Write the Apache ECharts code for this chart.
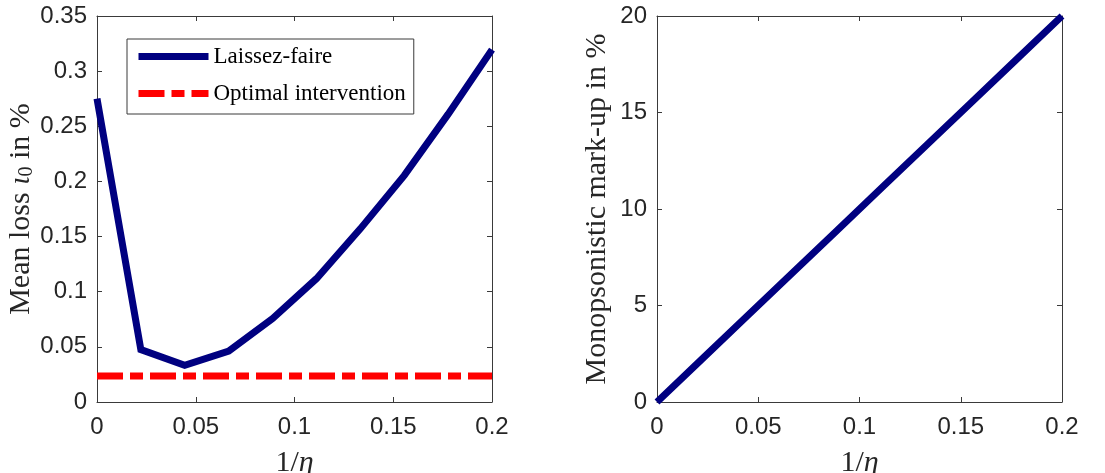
<!DOCTYPE html>
<html lang="en">
<head>
    <meta charset="UTF-8">
    <title>Mean loss and mark-up</title>
    <script src="https://cdn.jsdelivr.net/npm/echarts@6/dist/echarts.min.js"></script>
</head>
<body style="margin:0">
<div id="main" style="width:1105px;height:473px;"></div>
<script type="text/javascript">
    // 1/eta grid
    var invEta = [0, 0.0222, 0.0444, 0.0667, 0.0889, 0.1111, 0.1333, 0.1556, 0.1778, 0.2];
    // mean loss in %, laissez-faire
    var lossLaissez = [0.275, 0.0475, 0.0332, 0.0462, 0.0756, 0.1118, 0.157, 0.2055, 0.261, 0.3195];
    // mean loss in %, optimal intervention
    var lossOptimal = [0.0236, 0.0236, 0.0236, 0.0236, 0.0236, 0.0236, 0.0236, 0.0236, 0.0236, 0.0236];
    // monopsonistic mark-up in %
    var markup = [0, 2.22, 4.44, 6.67, 8.89, 11.11, 13.33, 15.56, 17.78, 20];

    function pairs(xs, ys) {
        return xs.map(function (x, i) { return [x, ys[i]]; });
    }

    var navy = '#000080';
    var axisCol = '#3a3a3a';
    var txtCol = '#262626';
    var serif = 'Liberation Serif';
    var sans = 'Liberation Sans';

    function xAx(grid, pos, showLab) {
        return {
            type: 'value', gridIndex: grid, position: pos,
            min: 0, max: 0.2, interval: 0.05,
            axisLine: {show: true, onZero: false, lineStyle: {color: axisCol, width: 1}},
            axisTick: {show: true, inside: true, length: 5, lineStyle: {color: axisCol}},
            axisLabel: {show: showLab, color: txtCol, fontFamily: sans, fontSize: 24, margin: 13,
                formatter: function (v) { return String(+v.toFixed(2)); }},
            splitLine: {show: false},
            name: showLab ? '{a|1/}{i|η}' : '',
            nameLocation: 'middle', nameGap: 46,
            nameTextStyle: {rich: {
                a: {fontFamily: serif, fontSize: 30, color: txtCol},
                i: {fontFamily: serif, fontSize: 30, fontStyle: 'italic', color: txtCol}
            }}
        };
    }

    function yAx(grid, pos, showLab, max, interval, name, gap) {
        return {
            type: 'value', gridIndex: grid, position: pos,
            min: 0, max: max, interval: interval,
            axisLine: {show: true, onZero: false, lineStyle: {color: axisCol, width: 1}},
            axisTick: {show: true, inside: true, length: 5, lineStyle: {color: axisCol}},
            axisLabel: {show: showLab, color: txtCol, fontFamily: sans, fontSize: 24, margin: 10,
                formatter: function (v) { return String(+v.toFixed(2)); }},
            splitLine: {show: false},
            name: showLab ? name : '',
            nameLocation: 'middle', nameGap: gap || 50,
            nameTextStyle: {
                fontFamily: serif, fontSize: 30, color: txtCol,
                rich: {
                    a: {fontFamily: serif, fontSize: 30, color: txtCol},
                    i: {fontFamily: serif, fontSize: 30, fontStyle: 'italic', color: txtCol},
                    s: {fontFamily: serif, fontSize: 20, color: txtCol, verticalAlign: 'bottom', padding: [10, 0, 0, 0]}
                }
            }
        };
    }

    var myChart = echarts.init(document.getElementById('main'));
    var option = {
        backgroundColor: '#ffffff',
        animation: false,
        grid: [
            {left: 97, top: 16, width: 395, height: 386, outerBoundsMode: 'none'},
            {left: 657, top: 16, width: 405, height: 386, outerBoundsMode: 'none'}
        ],
        xAxis: [
            xAx(0, 'bottom', true), xAx(0, 'top', false),
            xAx(1, 'bottom', true), xAx(1, 'top', false)
        ],
        yAxis: [
            yAx(0, 'left', true, 0.35, 0.05, '{a|Mean loss }{i|ι}{s|0}{a| in %}', 60),
            yAx(0, 'right', false, 0.35, 0.05, ''),
            yAx(1, 'left', true, 20, 5, 'Monopsonistic mark-up in %', 45),
            yAx(1, 'right', false, 20, 5, '')
        ],
        legend: {
            left: 127, top: 39, orient: 'vertical',
            data: ['Laissez-faire', 'Optimal intervention'],
            backgroundColor: '#ffffff',
            borderColor: axisCol, borderWidth: 1, borderRadius: 0,
            padding: [6, 8, 9, 8],
            itemWidth: 70, itemHeight: 14, itemGap: 14,
            itemStyle: {color: 'rgba(0,0,0,0)', borderWidth: 0, opacity: 0},
            lineStyle: {width: 7, cap: 'butt'},
            textStyle: {fontFamily: serif, fontSize: 23, color: '#000000'}
        },
        series: [
            {
                name: 'Laissez-faire', type: 'line',
                xAxisIndex: 0, yAxisIndex: 0,
                data: pairs(invEta, lossLaissez),
                symbol: 'none', clip: false, z: 3,
                lineStyle: {color: navy, width: 7, cap: 'butt', join: 'miter'},
                itemStyle: {color: navy}
            },
            {
                name: 'Optimal intervention', type: 'line',
                xAxisIndex: 0, yAxisIndex: 0,
                data: pairs(invEta, lossOptimal),
                symbol: 'none', clip: false, z: 2,
                lineStyle: {color: '#ff0000', width: 7, type: [26, 7, 13, 7], cap: 'butt'},
                itemStyle: {color: '#ff0000'}
            },
            {
                name: 'markup', type: 'line',
                xAxisIndex: 2, yAxisIndex: 2,
                data: pairs(invEta, markup),
                symbol: 'none', clip: false,
                lineStyle: {color: navy, width: 7, cap: 'butt'},
                itemStyle: {color: navy}
            }
        ]
    };
    option && myChart.setOption(option);
</script>
</body>
</html>
